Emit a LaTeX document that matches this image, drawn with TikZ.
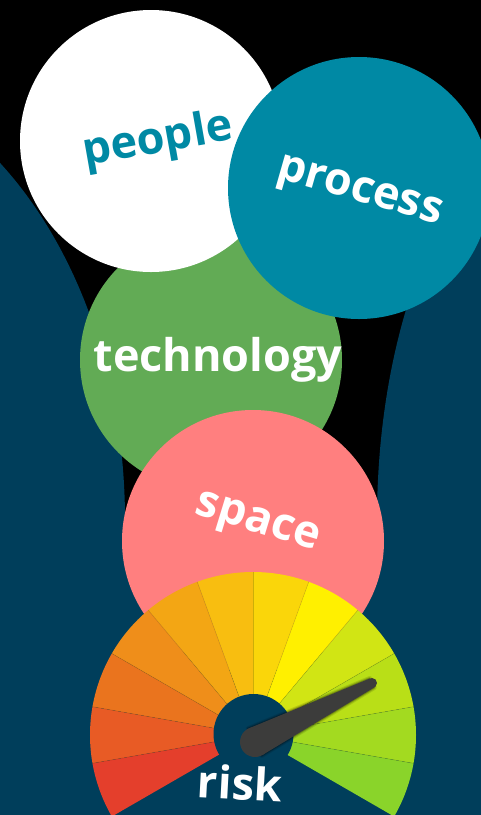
\documentclass[tikz,border=0pt]{standalone}
\usepackage{fontspec}
\setmainfont{Open Sans}
\usetikzlibrary{calc}
\definecolor{navy}{HTML}{003E5B}
\definecolor{procteal}{HTML}{0089A4}
\definecolor{techgreen}{HTML}{62AB55}
\definecolor{spacepink}{HTML}{FF7F7F}
\definecolor{needlegray}{HTML}{3C3C3B}
\definecolor{ga}{HTML}{E43F2C}
\definecolor{gb}{HTML}{E85B25}
\definecolor{gc}{HTML}{EA741E}
\definecolor{gd}{HTML}{EF8E1A}
\definecolor{ge}{HTML}{F3A614}
\definecolor{gf}{HTML}{F8BE10}
\definecolor{gg}{HTML}{FAD60A}
\definecolor{gh}{HTML}{FFF000}
\definecolor{gi}{HTML}{D1E514}
\definecolor{gj}{HTML}{B9DF17}
\definecolor{gk}{HTML}{A3DA20}
\definecolor{gl}{HTML}{8AD42A}
\begin{document}
\begin{tikzpicture}[x=1pt,y=-1pt,
  lbl/.style={font=\fontsize{45}{54}\selectfont\bfseries, text=white, inner sep=0pt},
  divider/.style={draw=black, draw opacity=0.18, line width=0.5pt},
  needleshape/.style={fill=needlegray}]
\useasboundingbox (0,0) rectangle (481,815);
\clip (0,0) rectangle (481,815);
\fill[black] (0,0) rectangle (481,815);
% side shapes
\fill[navy] (-200,520) ellipse[x radius=325, y radius=453];
\fill[navy] (-200,520) rectangle (125,815);
\fill[navy] (600,520) ellipse[x radius=223, y radius=426];
\fill[navy] (377,520) rectangle (700,815);
\fill[navy] (0,545) rectangle (481,815);
% circles
\fill[techgreen] (211,360) circle[radius=131];
\fill[white] (151,141) circle[radius=131];
\fill[procteal] (359,188) circle[radius=131];
\fill[spacepink] (253,541) circle[radius=131];
% labels
\node[lbl, text=procteal, rotate=10] (people) at (158,141) {people};
\node[lbl, rotate=-16] (process) at (359,194) {process};
\node[lbl] (technology) at (218,360) {technology};
\node[lbl, rotate=-17] (space) at (257,525) {space};
% gauge
\coordinate (C) at (253,735);
\foreach \a/\c in {210/ga,190/gb,170/gc,150/gd,130/ge,110/gf,90/gg,70/gh,50/gi,30/gj,10/gk,-10/gl}{
  \fill[\c] (C) -- ++({-\a}:163) arc[start angle={-\a}, end angle={-\a+20}, radius=163] -- cycle;
}
\foreach \a in {190,170,150,130,110,90,70,50,30,10,-10}{
  \path[divider] (C) ++({-\a}:38) -- ++({-\a}:125);
}
\fill[navy] (253.5,734) circle[radius=40];
% needle
\coordinate (nb) at (255,742);
\coordinate (nt) at (372,683);
\coordinate (nb1) at (248.25,728.6);
\coordinate (nb2) at (261.75,755.4);
\coordinate (nt1) at (369.75,678.5);
\coordinate (nt2) at (374.25,687.5);
\foreach \w/\o in {5/0.10,3/0.15,1.5/0.2}{
  \draw[black, opacity=\o, line width=\w pt, line join=round] (nb1) -- (nt1) -- (nt2) -- (nb2) -- cycle;
}
\fill[needleshape] (nb) circle[radius=15];
\fill[needleshape] (nt) circle[radius=5];
\fill[needleshape] (nb1) -- (nt1) -- (nt2) -- (nb2) -- cycle;
\node[lbl, rotate=-3] (risk) at (240,783) {risk};
\end{tikzpicture}
\end{document}
